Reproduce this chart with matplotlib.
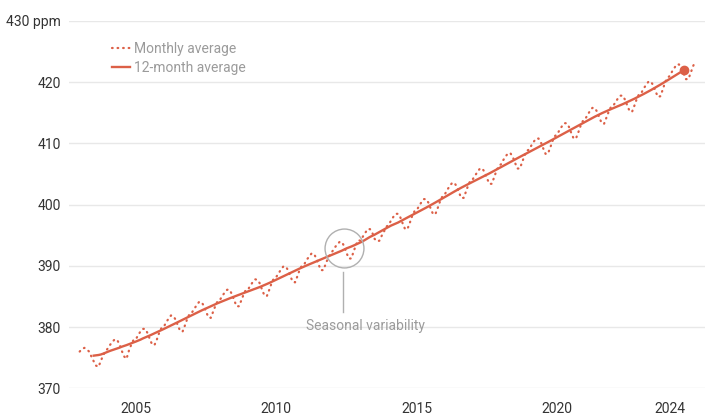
import numpy as np
import pandas as pd
import matplotlib
matplotlib.use("Agg")
from matplotlib import pyplot as plt

# monthly mean CO2 (ppm), Jan 2003 - Dec 2024
first_year = 2003
monthly_ppm = [
    376.0, 376.4, 376.6, 376.4, 376.0, 375.2, 374.4, 373.7, 373.5, 374.4, 375.4, 376.0,  # 2003
    376.5, 377.1, 377.6, 378.0, 377.9, 377.2, 376.1, 375.2, 374.8, 376.1, 377.1, 377.9,  # 2004
    378.0, 378.7, 379.3, 379.7, 379.7, 379.0, 378.0, 377.1, 377.1, 378.0, 379.1, 379.9,  # 2005
    380.1, 380.8, 381.4, 381.9, 381.8, 381.2, 380.2, 379.3, 379.3, 380.3, 381.4, 382.2,  # 2006
    382.4, 383.0, 383.6, 384.1, 384.1, 383.5, 382.5, 381.6, 381.5, 382.5, 383.5, 384.3,  # 2007
    384.5, 385.1, 385.7, 386.1, 386.1, 385.4, 384.4, 383.4, 383.4, 384.3, 385.3, 386.1,  # 2008
    386.2, 386.8, 387.4, 387.8, 387.7, 387.1, 386.0, 385.1, 385.1, 386.1, 387.2, 388.0,  # 2009
    388.2, 388.8, 389.4, 389.9, 389.9, 389.3, 388.3, 387.4, 387.3, 388.3, 389.4, 390.1,  # 2010
    390.3, 391.0, 391.5, 392.0, 392.0, 391.3, 390.3, 389.3, 389.3, 390.2, 391.2, 391.9,  # 2011
    392.4, 393.0, 393.5, 393.9, 393.9, 393.2, 392.1, 391.2, 391.2, 392.3, 393.4, 394.2,  # 2012
    394.1, 394.8, 395.4, 396.0, 396.0, 395.4, 394.4, 394.0, 394.1, 394.9, 395.6, 396.4,  # 2013
    396.7, 397.4, 398.0, 398.5, 398.5, 397.9, 396.9, 396.0, 396.0, 397.0, 398.1, 398.9,  # 2014
    399.1, 399.8, 400.4, 400.9, 400.9, 400.3, 399.3, 398.4, 398.5, 399.5, 400.6, 401.4,  # 2015
    401.7, 402.4, 403.0, 403.5, 403.6, 403.0, 402.0, 401.1, 401.1, 402.1, 403.2, 404.0,  # 2016
    404.2, 404.8, 405.4, 405.9, 405.9, 405.3, 404.3, 403.4, 403.4, 404.4, 405.5, 406.3,  # 2017
    406.6, 407.3, 407.9, 408.4, 408.4, 407.8, 406.8, 405.9, 405.9, 406.9, 408.0, 408.8,  # 2018
    409.0, 409.7, 410.3, 410.8, 410.8, 410.2, 409.2, 408.3, 408.3, 409.3, 410.4, 411.2,  # 2019
    411.5, 412.2, 412.8, 413.3, 413.3, 412.7, 411.7, 410.8, 410.8, 411.8, 412.9, 413.7,  # 2020
    414.0, 414.7, 415.3, 415.8, 415.8, 415.2, 414.2, 413.3, 413.2, 414.2, 415.2, 416.0,  # 2021
    416.2, 416.8, 417.4, 417.8, 417.8, 417.1, 416.1, 415.2, 415.2, 416.2, 417.3, 418.1,  # 2022
    418.3, 419.0, 419.6, 420.1, 420.1, 419.5, 418.5, 417.6, 417.7, 418.7, 419.9, 420.7,  # 2023
    421.0, 421.7, 422.3, 422.9, 422.9, 422.4, 421.4, 420.5, 420.5, 421.5, 422.6, 423.4,  # 2024
]
x_ticks = [2005, 2010, 2015, 2020, 2024]
y_ticks = [370, 380, 390, 400, 410, 420, 430]
y_labels = ['370', '380', '390', '400', '410', '420', '430 ppm']

plt.rcParams['font.family'] = ['Roboto', 'DejaVu Sans']

line_color = '#dc6047'
grey_text = '#9b9b9b'

monthly = pd.Series(monthly_ppm)
dates = first_year + np.arange(len(monthly)) / 12
avg12 = monthly.rolling(12, center=True).mean()

fig = plt.figure(figsize=(7.05, 4.18), dpi=100)
ax = fig.add_axes([69 / 705, 0.0711, 1 - 69 / 705, 0.9498 - 0.0711])

ax.plot(dates, monthly, color=line_color, lw=1.6, linestyle=(0, (0.3, 2.2)),
        dash_capstyle='round', label='Monthly average', zorder=3)
ax.plot(dates, avg12, color=line_color, lw=1.7, label='12-month average', zorder=4)
last = avg12.last_valid_index()
ax.plot(dates[last], avg12[last], 'o', color=line_color, ms=6, zorder=5)

ax.set_xlim(2002.62, 2025.26)
ax.set_ylim(370, 430)
ax.set_xticks(x_ticks)
ax.set_yticks(y_ticks)
ax.set_yticklabels(y_labels)
ax.grid(axis='y', color='#e8e8e8', lw=1)
ax.set_axisbelow(True)
for s in ax.spines.values():
    s.set_visible(False)
ax.tick_params(axis='both', length=0, labelsize=10, colors='#333333')
ax.tick_params(axis='x', pad=10)
ax.tick_params(axis='y', pad=6)

# seasonal variability callout
ax.plot([2012.40], [392.9], 'o', ms=28, mfc='none', mec='#b0b0b0', mew=1, zorder=6)
ax.plot([2012.38, 2012.38], [389.0, 382.5], color='#b0b0b0', lw=1, zorder=6)
ax.text(2013.18, 380.2, 'Seasonal variability', color=grey_text, fontsize=10,
        ha='center', va='center')

leg = ax.legend(loc='upper left', bbox_to_anchor=(112 / 705, 1 - 42 / 418),
                bbox_transform=fig.transFigure, frameon=False, fontsize=10,
                handlelength=1.3, handletextpad=0.3, labelspacing=0.35, borderpad=0,
                borderaxespad=0)
for t in leg.get_texts():
    t.set_color(grey_text)

plt.savefig('out.png', dpi=100)
